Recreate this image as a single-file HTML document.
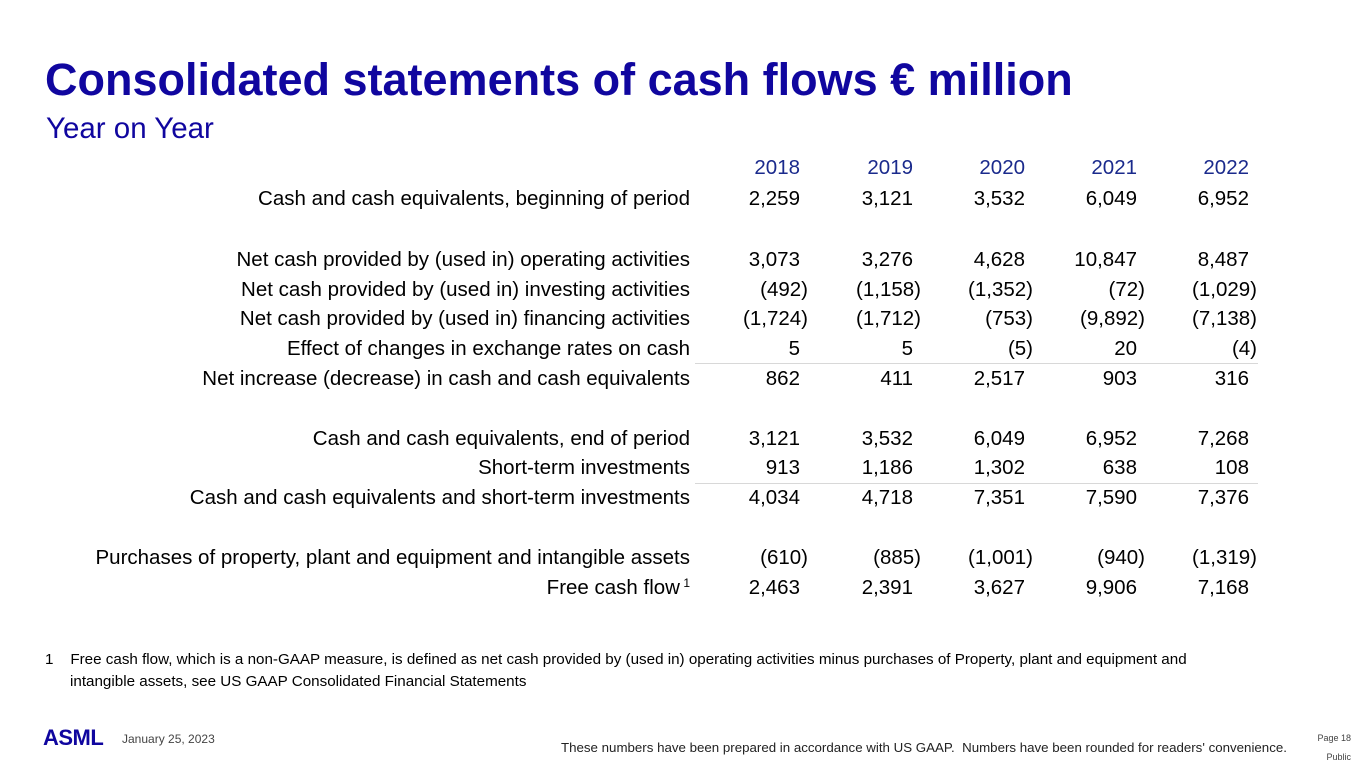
<!DOCTYPE html>
<html><head><meta charset="utf-8">
<style>
body{margin:0;width:1365px;height:768px;background:#fff;font-family:"Liberation Sans",sans-serif;position:relative;overflow:hidden}
.a{position:absolute;white-space:nowrap}
#title{left:45px;top:54px;font-size:45px;font-weight:bold;color:#10069f}
#sub{left:46px;top:112px;font-size:29.5px;color:#10069f}
.lbl{right:675px;font-size:20.5px;color:#000;line-height:22px}
.num{font-size:20.5px;color:#000;line-height:22px;text-align:right}
.yr{font-size:20.5px;color:#1a2a8c;line-height:22px;text-align:right}
.line{position:absolute;height:1px;background:#d8d8d8;left:695px;width:563px}
sup{position:relative;top:-7px;vertical-align:baseline;font-size:12px}
</style></head><body>
<div class="a" id="title">Consolidated statements of cash flows € million</div>
<div class="a" id="sub">Year on Year</div>
<div id="table"></div>
<div class="line" style="top:363px"></div>
<div class="line" style="top:483px"></div>
<div class="a" style="left:45px;top:651px;font-size:15.2px">1&nbsp;&nbsp;&nbsp;&nbsp;Free cash flow, which is a non-GAAP measure, is defined as net cash provided by (used in) operating activities minus purchases of Property, plant and equipment and</div>
<div class="a" style="left:70px;top:673px;font-size:15.2px">intangible assets, see US GAAP Consolidated Financial Statements</div>
<div class="a" style="left:43px;top:725px;font-size:22px;font-weight:900;color:#10069f;letter-spacing:-0.5px">ASML</div>
<div class="a" style="left:122px;top:732px;font-size:12px;color:#444">January 25, 2023</div>
<div class="a" style="left:561px;top:740px;font-size:13.3px;color:#222">These numbers have been prepared in accordance with US GAAP.&nbsp; Numbers have been rounded for readers' convenience.</div>
<div class="a" style="right:14px;top:733px;font-size:9px;color:#444">Page 18</div>
<div class="a" style="right:14px;top:752px;font-size:9px;color:#444">Public</div>
<script>
const years=["2018","2019","2020","2021","2022"];
const labels=["Cash and cash equivalents, beginning of period","Net cash provided by (used in) operating activities","Net cash provided by (used in) investing activities","Net cash provided by (used in) financing activities","Effect of changes in exchange rates on cash","Net increase (decrease) in cash and cash equivalents","Cash and cash equivalents, end of period","Short-term investments","Cash and cash equivalents and short-term investments","Purchases of property, plant and equipment and intangible assets","Free cash flow"];
const values=[
[2259,3121,3532,6049,6952],
[3073,3276,4628,10847,8487],
[-492,-1158,-1352,-72,-1029],
[-1724,-1712,-753,-9892,-7138],
[5,5,-5,20,-4],
[862,411,2517,903,316],
[3121,3532,6049,6952,7268],
[913,1186,1302,638,108],
[4034,4718,7351,7590,7376],
[-610,-885,-1001,-940,-1319],
[2463,2391,3627,9906,7168]];
const rowY=[188,249,279,308,338,368,428,457,487,547,577];
const colRight=[808,921,1033,1145,1257];
const t=document.getElementById('table');
function fmt(v){const s=Math.abs(v).toLocaleString('en-US');return v<0?'('+s+')':s;}
years.forEach((y,i)=>{const d=document.createElement('div');d.className='a yr';


d.style.right=(1365-colRight[i]+8)+'px';d.style.top='157px';d.textContent=y;t.appendChild(d);});
labels.forEach((l,r)=>{const d=document.createElement('div');d.className='a lbl';


d.style.top=rowY[r]+'px';d.innerHTML=l+(r==10?'<sup> 1</sup>':'');t.appendChild(d);
values[r].forEach((v,c)=>{const n=document.createElement('div');n.className='a num';


n.style.right=(1365-colRight[c]+(v<0?0:8))+'px';n.style.top=rowY[r]+'px';n.textContent=fmt(v);t.appendChild(n);});});
</script>
</body></html>
